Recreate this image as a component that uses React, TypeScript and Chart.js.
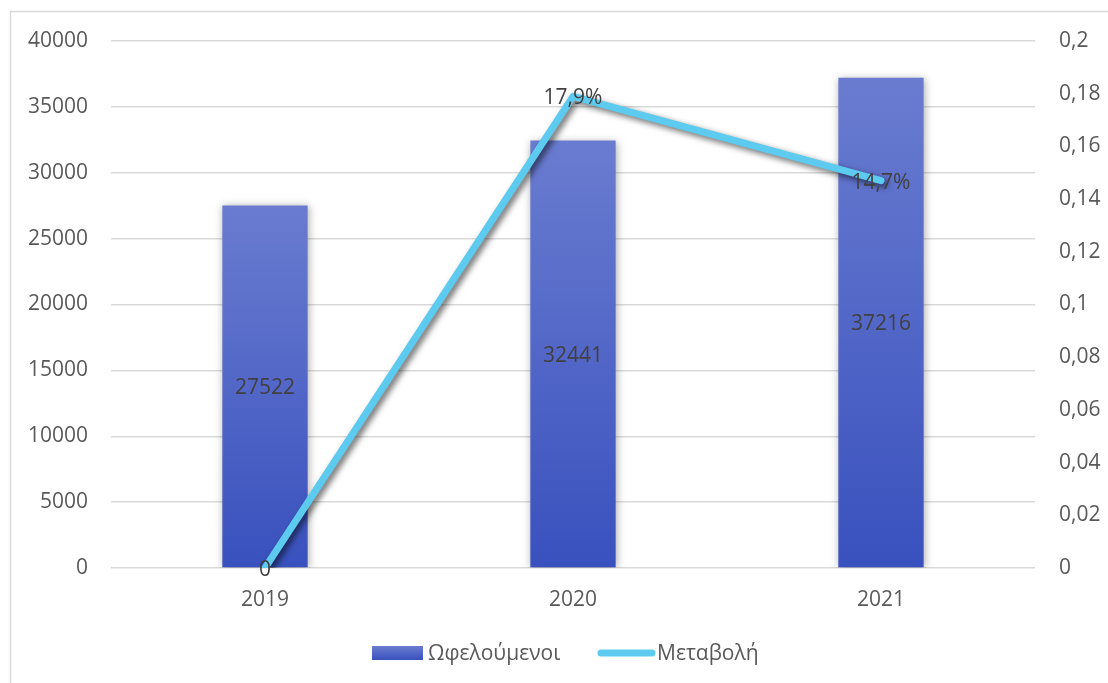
import React, { useEffect, useRef } from "react";
import { Chart, registerables } from "chart.js";

Chart.register(...registerables);

const categories = ["2019", "2020", "2021"];
const beneficiaries = [27522, 32441, 37216];
const change = [0, 0.179, 0.147];
const leftTickLabels = ["0", "5000", "10000", "15000", "20000", "25000", "30000", "35000", "40000"];
const rightTickLabels = ["0", "0,02", "0,04", "0,06", "0,08", "0,1", "0,12", "0,14", "0,16", "0,18", "0,2"];
const seriesNames = ["Ωφελούμενοι", "Μεταβολή"];

const FONT = "'Open Sans', 'Noto Sans', sans-serif";
const AXIS_COLOR = "#595959";
const LABEL_COLOR = "#404040";
const BAR_TOP = "#6a7cd0";
const BAR_BOTTOM = "#3951be";
const LINE_COLOR = "#5ccbef";

function fmtPct(v: number) {
  if (v === 0) return "0";
  return (v * 100).toFixed(1).replace(".", ",") + "%";
}

export default function App() {
  const ref = useRef<HTMLCanvasElement | null>(null);

  useEffect(() => {
    const canvas = ref.current;
    if (!canvas) return;

    const shadowPlugin = {
      id: "shadows",
      beforeDatasetDraw(chart: any, args: any) {
        const ctx = chart.ctx;
        ctx.save();
        if (args.meta.type === "bar") {
          ctx.shadowColor = "rgba(0,0,0,0.32)";
          ctx.shadowBlur = 8;
          ctx.shadowOffsetX = 1;
          ctx.shadowOffsetY = 1;
        } else {
          ctx.shadowColor = "rgba(0,0,0,0.6)";
          ctx.shadowBlur = 6;
          ctx.shadowOffsetX = 3;
          ctx.shadowOffsetY = 3;
        }
      },
      afterDatasetDraw(chart: any) {
        chart.ctx.restore();
      },
    };

    const decorPlugin = {
      id: "decor",
      beforeDraw(chart: any) {
        const ctx = chart.ctx;
        ctx.save();
        ctx.fillStyle = "#ffffff";
        ctx.fillRect(0, 0, chart.width, chart.height);
        ctx.strokeStyle = "#d9d9d9";
        ctx.lineWidth = 1.5;
        ctx.strokeRect(10.5, 11.5, chart.width + 20, chart.height + 20);
        ctx.restore();
      },
      afterDatasetsDraw(chart: any) {
        const ctx = chart.ctx;
        ctx.save();
        ctx.font = `21px ${FONT}`;
        ctx.fillStyle = LABEL_COLOR;
        ctx.textAlign = "center";
        ctx.textBaseline = "middle";
        const barMeta = chart.getDatasetMeta(1);
        barMeta.data.forEach((el: any, i: number) => {
          const y = (el.y + el.base) / 2;
          ctx.fillText(String(beneficiaries[i]), el.x, y + 2);
        });
        const lineMeta = chart.getDatasetMeta(0);
        lineMeta.data.forEach((el: any, i: number) => {
          ctx.fillText(fmtPct(change[i]), el.x, el.y + 2);
        });

        // legend
        const ly = 653;
        const g = ctx.createLinearGradient(0, 646, 0, 660);
        g.addColorStop(0, BAR_TOP);
        g.addColorStop(1, BAR_BOTTOM);
        ctx.fillStyle = g;
        ctx.fillRect(372, 646, 51, 14);
        ctx.fillStyle = AXIS_COLOR;
        ctx.textAlign = "left";
        ctx.fillText(seriesNames[0], 428, ly + 1);
        ctx.strokeStyle = LINE_COLOR;
        ctx.lineWidth = 7;
        ctx.lineCap = "round";
        ctx.beginPath();
        ctx.moveTo(601, ly);
        ctx.lineTo(652, ly);
        ctx.stroke();
        ctx.fillText(seriesNames[1], 657, ly + 1);
        ctx.restore();
      },
    };

    const chart = new Chart(canvas, {
      type: "bar",
      data: {
        labels: categories,
        datasets: [
          {
            type: "line",
            label: seriesNames[1],
            data: change,
            yAxisID: "y1",
            borderColor: LINE_COLOR,
            backgroundColor: LINE_COLOR,
            borderWidth: 7,
            borderCapStyle: "round",
            borderJoinStyle: "round",
            pointRadius: 0,
            tension: 0,
            order: 1,
          } as any,
          {
            type: "bar",
            label: seriesNames[0],
            data: beneficiaries,
            yAxisID: "y",
            backgroundColor: (c: any) => {
              const chart = c.chart;
              const ys = chart.scales && chart.scales.y;
              if (!ys || c.raw == null || !chart.chartArea) return BAR_BOTTOM;
              const top = ys.getPixelForValue(c.raw);
              const bottom = ys.getPixelForValue(0);
              const g = chart.ctx.createLinearGradient(0, top, 0, bottom);
              g.addColorStop(0, BAR_TOP);
              g.addColorStop(1, BAR_BOTTOM);
              return g;
            },
            borderWidth: 0,
            categoryPercentage: 1,
            barPercentage: 0.277,
            order: 2,
          } as any,
        ],
      },
      options: {
        responsive: false,
        animation: false,
        devicePixelRatio: 1,
        layout: { padding: { top: 41, bottom: 0, left: 0, right: 0 } },
        plugins: {
          legend: { display: false },
          tooltip: { enabled: false },
        },
        scales: {
          x: {
            grid: { display: false, drawTicks: false },
            border: { display: false },
            ticks: {
              color: AXIS_COLOR,
              font: { family: FONT, size: 21 },
              padding: 19,
            },
            afterFit: (s: any) => {
              s.height = 683 - 568;
            },
          },
          y: {
            position: "left",
            min: 0,
            max: 40000,
            ticks: {
              stepSize: 5000,
              color: AXIS_COLOR,
              font: { family: FONT, size: 21 },
              padding: 23,
              callback: (_v: any, i: number) => leftTickLabels[i],
            },
            grid: { color: "#d9d9d9", lineWidth: 1.5, drawTicks: false },
            border: { display: false },
            afterFit: (s: any) => {
              s.width = 111;
            },
          },
          y1: {
            position: "right",
            min: 0,
            max: 0.2,
            ticks: {
              stepSize: 0.02,
              color: AXIS_COLOR,
              font: { family: FONT, size: 21 },
              padding: 24,
              callback: (_v: any, i: number) => rightTickLabels[i],
            },
            grid: { display: false, drawTicks: false },
            border: { display: false },
            afterFit: (s: any) => {
              s.width = 1108 - 1035;
            },
          },
        },
      },
      plugins: [shadowPlugin, decorPlugin],
    } as any);

    return () => chart.destroy();
  }, []);

  return (
    <div style={{ position: "fixed", left: 0, top: 0, width: 1108, height: 683, background: "#fff" }}>
      <canvas ref={ref} width={1108} height={683} style={{ display: "block" }} />
    </div>
  );
}
